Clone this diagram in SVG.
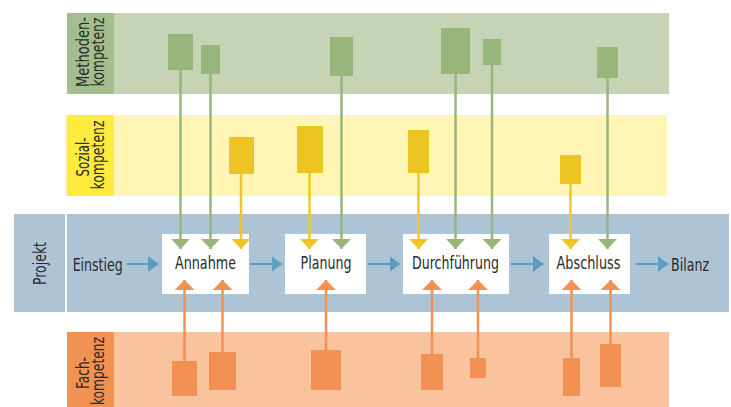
<svg xmlns="http://www.w3.org/2000/svg" width="731" height="407" viewBox="0 0 731 407">
<defs>
<style>
.t{font-family:"DejaVu Sans","Liberation Sans",sans-serif;font-stretch:condensed;font-size:17px;fill:#2b2b2b}
.vt{text-anchor:middle}
.box{fill:#ffffff}
.g{fill:#98b57b}
.y{fill:#ecc524}
.o{fill:#f29153}
.gl{stroke:#98b57b;stroke-width:2.5;fill:none}
.yl{stroke:#eec72a;stroke-width:2.5;fill:none}
.ol{stroke:#f29153;stroke-width:2.5;fill:none}
.bl{stroke:#5c9cbf;stroke-width:2;fill:none}
</style>
<marker id="mg" markerUnits="userSpaceOnUse" markerWidth="20" markerHeight="11" refX="10" refY="10" orient="0" viewBox="0 0 20 11"><path d="M0.5,0 L19.5,0 L10,10 z" fill="#98b57b"/></marker>
<marker id="my" markerUnits="userSpaceOnUse" markerWidth="20" markerHeight="11" refX="10" refY="10" orient="0" viewBox="0 0 20 11"><path d="M0.5,0 L19.5,0 L10,10 z" fill="#ecc524"/></marker>
<marker id="mo" markerUnits="userSpaceOnUse" markerWidth="20" markerHeight="11" refX="10" refY="0.5" orient="0" viewBox="0 0 20 11"><path d="M0,10.5 L20,10.5 L10,0.5 z" fill="#f29153"/></marker>
<marker id="mb" markerUnits="userSpaceOnUse" markerWidth="11" markerHeight="17" refX="10.5" refY="8" orient="auto" viewBox="0 0 11 17"><path d="M0,0 L10.5,8 L0,16 z" fill="#5c9cbf"/></marker>
</defs>

<g id="band-methoden">
<rect x="67" y="13" width="602" height="81" fill="#c7d3b5"/>
<rect x="67" y="13" width="47" height="81" fill="#a4be8d"/>
<text class="t vt" transform="translate(88.5,52) rotate(-90)" textLength="70" lengthAdjust="spacingAndGlyphs">Methoden-</text>
<text class="t vt" transform="translate(104,52) rotate(-90)" textLength="69" lengthAdjust="spacingAndGlyphs">kompetenz</text>
</g>
<g id="band-sozial">
<rect x="65" y="115" width="602" height="81" fill="#fff5b4"/>
<rect x="67" y="115" width="47" height="81" fill="#ffeb3e"/>
<text class="t vt" transform="translate(88.5,157) rotate(-90)" textLength="39" lengthAdjust="spacingAndGlyphs">Sozial-</text>
<text class="t vt" transform="translate(104,155) rotate(-90)" textLength="69" lengthAdjust="spacingAndGlyphs">kompetenz</text>
</g>
<g id="band-projekt">
<rect x="14" y="214" width="51" height="98" fill="#adc3d6"/>
<rect x="67" y="214" width="662" height="98" fill="#adc3d6"/>
<text class="t vt" transform="translate(45.5,263.5) rotate(-90)" textLength="43" lengthAdjust="spacingAndGlyphs">Projekt</text>
</g>
<g id="band-fach">
<rect x="67" y="332" width="602" height="75" fill="#f8c39d"/>
<rect x="67" y="332" width="47" height="75" fill="#f19152"/>
<text class="t vt" transform="translate(88.5,373) rotate(-90)" textLength="32" lengthAdjust="spacingAndGlyphs">Fach-</text>
<text class="t vt" transform="translate(104,371) rotate(-90)" textLength="68" lengthAdjust="spacingAndGlyphs">kompetenz</text>
</g>

<g id="methoden-bars">
<rect class="g" x="168" y="34" width="25" height="36"/>
<rect class="g" x="201" y="45" width="19" height="29"/>
<rect class="g" x="330" y="37" width="23" height="39"/>
<rect class="g" x="441" y="28" width="29" height="46"/>
<rect class="g" x="483" y="39" width="18" height="26"/>
<rect class="g" x="597" y="47" width="21" height="31"/>
</g>
<g id="sozial-bars">
<rect class="y" x="229" y="137" width="25" height="37"/>
<rect class="y" x="297" y="126" width="26" height="47"/>
<rect class="y" x="408" y="130" width="21" height="43"/>
<rect class="y" x="560" y="155" width="21" height="29"/>
</g>
<g id="fach-bars">
<rect class="o" x="172" y="361" width="25" height="35"/>
<rect class="o" x="209" y="352" width="27" height="38"/>
<rect class="o" x="311" y="350" width="30" height="40"/>
<rect class="o" x="421" y="354" width="22" height="36"/>
<rect class="o" x="470" y="358" width="16" height="20"/>
<rect class="o" x="563" y="358" width="17" height="38"/>
<rect class="o" x="600" y="344" width="21" height="43"/>
</g>

<g id="node-annahme"><rect class="box" x="162" y="234" width="87" height="60"/><text class="t vt" x="205.5" y="269" textLength="61" lengthAdjust="spacingAndGlyphs">Annahme</text></g>
<g id="node-planung"><rect class="box" x="285" y="234" width="81" height="60"/><text class="t vt" x="326" y="269" textLength="51" lengthAdjust="spacingAndGlyphs">Planung</text></g>
<g id="node-durchfuehrung"><rect class="box" x="403" y="234" width="106" height="60"/><text class="t vt" x="455.5" y="269" textLength="87" lengthAdjust="spacingAndGlyphs">Durchführung</text></g>
<g id="node-abschluss"><rect class="box" x="549" y="234" width="81" height="60"/><text class="t vt" x="588.5" y="269" textLength="64" lengthAdjust="spacingAndGlyphs">Abschluss</text></g>
<g id="node-einstieg"><text class="t" x="72.7" y="270.5" textLength="50" lengthAdjust="spacingAndGlyphs">Einstieg</text></g>
<g id="node-bilanz"><text class="t" x="671" y="270.5" textLength="38" lengthAdjust="spacingAndGlyphs">Bilanz</text></g>

<g id="connectors">
<line class="bl" x1="127" y1="264" x2="158.5" y2="264" marker-end="url(#mb)"/>
<line class="bl" x1="250" y1="264" x2="282" y2="264" marker-end="url(#mb)"/>
<line class="bl" x1="368" y1="264" x2="400" y2="264" marker-end="url(#mb)"/>
<line class="bl" x1="511" y1="264" x2="543.5" y2="264" marker-end="url(#mb)"/>
<line class="bl" x1="636" y1="264" x2="668.5" y2="264" marker-end="url(#mb)"/>

<line class="gl" x1="180.5" y1="70" x2="180.5" y2="249" marker-end="url(#mg)"/>
<line class="gl" x1="210.5" y1="74" x2="210.5" y2="249" marker-end="url(#mg)"/>
<line class="gl" x1="341.5" y1="76" x2="341.5" y2="249" marker-end="url(#mg)"/>
<line class="gl" x1="455.5" y1="74" x2="455.5" y2="249" marker-end="url(#mg)"/>
<line class="gl" x1="492" y1="65" x2="492" y2="249" marker-end="url(#mg)"/>
<line class="gl" x1="607.5" y1="78" x2="607.5" y2="249" marker-end="url(#mg)"/>

<line class="yl" x1="241" y1="174" x2="241" y2="249" marker-end="url(#my)"/>
<line class="yl" x1="309.5" y1="173" x2="309.5" y2="249" marker-end="url(#my)"/>
<line class="yl" x1="418.5" y1="173" x2="418.5" y2="249" marker-end="url(#my)"/>
<line class="yl" x1="570.5" y1="184" x2="570.5" y2="249" marker-end="url(#my)"/>

<line class="ol" x1="184.5" y1="361" x2="184.5" y2="280" marker-end="url(#mo)"/>
<line class="ol" x1="222.5" y1="352" x2="222.5" y2="280" marker-end="url(#mo)"/>
<line class="ol" x1="326" y1="350" x2="326" y2="280" marker-end="url(#mo)"/>
<line class="ol" x1="432" y1="354" x2="432" y2="280" marker-end="url(#mo)"/>
<line class="ol" x1="478" y1="358" x2="478" y2="280" marker-end="url(#mo)"/>
<line class="ol" x1="571.5" y1="358" x2="571.5" y2="280" marker-end="url(#mo)"/>
<line class="ol" x1="610.5" y1="344" x2="610.5" y2="280" marker-end="url(#mo)"/>
</g>
</svg>
